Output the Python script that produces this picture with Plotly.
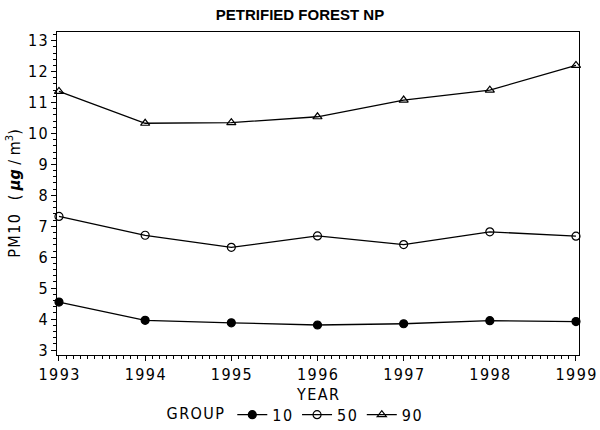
import plotly.graph_objects as go

# yearly PM10 percentiles
years = [1993, 1994, 1995, 1996, 1997, 1998, 1999]
group_10 = [4.55, 3.96, 3.88, 3.81, 3.85, 3.95, 3.92]
group_50 = [7.32, 6.71, 6.32, 6.69, 6.41, 6.82, 6.68]
group_90 = [11.36, 10.33, 10.35, 10.54, 11.08, 11.40, 12.20]
group_names = ["10", "50", "90"]
y_ticks = [3, 4, 5, 6, 7, 8, 9, 10, 11, 12, 13]

NARROW = "DejaVu Sans Condensed, Liberation Sans Narrow, Roboto, sans-serif"
HS = "\u200a"  # hair space, mimics the spaced-out SAS lettering
tick_font = dict(family=NARROW, size=16, color="black")


def spaced(s):
    return HS.join(str(s))


fig = go.Figure()

series = [group_10, group_50, group_90]
symbols = ["circle", "circle-open", "triangle-up-open"]
for name, vals, sym in zip(group_names, series, symbols):
    fig.add_trace(go.Scatter(
        x=years, y=vals, name=spaced(name), mode="lines+markers",
        line=dict(color="black", width=1.3),
        marker=dict(symbol=sym, size=8, color="black", line=dict(color="black", width=1.2)),
        cliponaxis=False,
    ))

fig.update_layout(
    width=600, height=430,
    margin=dict(l=57, r=21, t=32, b=75, autoexpand=False),
    paper_bgcolor="white", plot_bgcolor="white",
    title=dict(text="<b>PETRIFIED FOREST NP</b>", x=0.5, xanchor="center", y=0.965, yanchor="middle",
               font=dict(family="Liberation Sans", size=15, color="black")),
    showlegend=True,
    legend=dict(orientation="h", x=0.457, xanchor="center", y=-0.185, yanchor="middle",
                title=dict(text=spaced("GROUP"), font=tick_font, side="left"),
                font=tick_font, itemwidth=30, tracegroupgap=0,
                bgcolor="rgba(0,0,0,0)"),
)

fig.update_xaxes(
    range=[1992.977, 1999.035], tickmode="array", tickvals=years,
    ticktext=[spaced(y) for y in years], ticklabeloverflow="allow", automargin=False,
    ticks="outside", ticklen=5, tickwidth=1, tickcolor="black",
    minor=dict(tick0=1993, dtick=1 / 12, ticks="outside", ticklen=3, tickcolor="black", showgrid=False),
    showline=True, linecolor="black", linewidth=1.2, mirror=True,
    showgrid=False, zeroline=False, tickfont=tick_font,
    title=dict(text=spaced("YEAR"), font=tick_font, standoff=5),
)
fig.update_yaxes(
    range=[2.84, 13.28], tickmode="array", tickvals=y_ticks,
    ticktext=[spaced(v) for v in y_ticks], automargin=False,
    ticks="outside", ticklen=5, tickwidth=1, tickcolor="black",
    minor=dict(tick0=3, dtick=0.2, ticks="outside", ticklen=3, tickcolor="black", showgrid=False),
    showline=True, linecolor="black", linewidth=1.2, mirror=True,
    showgrid=False, zeroline=False, tickfont=tick_font,
    title=dict(text=spaced("PM10") + "   ( <b><i>μg</i></b> / m<sup>3</sup>)",
               font=dict(family=NARROW, size=16, color="black"), standoff=3),
)

# drop the browser's default 8px body margin so the figure sits at the window corner
fig.write_html("out.html", config={"displayModeBar": False},
               post_script="document.body.style.margin='0';document.body.style.overflow='hidden';")
